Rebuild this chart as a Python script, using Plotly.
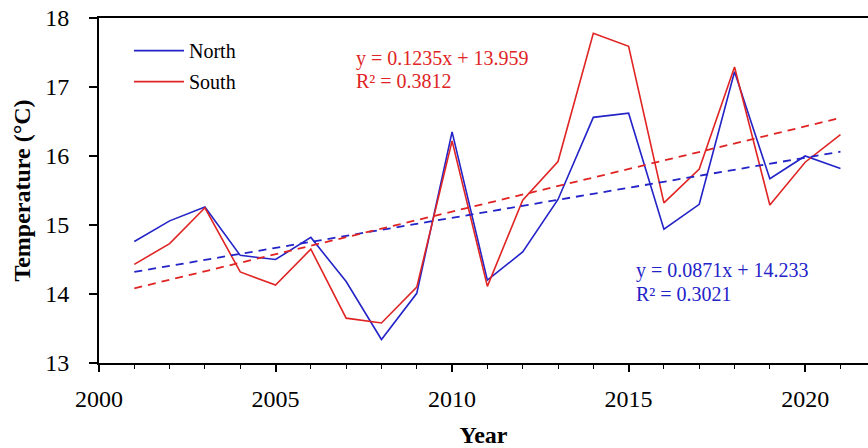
import plotly.graph_objects as go

years = list(range(2001, 2022))
north = [14.76, 15.06, 15.26, 14.56, 14.50, 14.82, 14.18, 13.34, 14.01, 16.35, 14.20,
         14.61, 15.37, 16.56, 16.62, 14.94, 15.30, 17.22, 15.67, 16.00, 15.82]
south = [14.43, 14.73, 15.25, 14.32, 14.13, 14.65, 13.65, 13.58, 14.10, 16.22, 14.11,
         15.36, 15.92, 17.78, 17.59, 15.32, 15.81, 17.29, 15.29, 15.91, 16.31]

north_fit = (0.0871, 14.233, 0.3021)
south_fit = (0.1235, 13.959, 0.3812)

BLUE = "#2323c8"
RED = "#e02424"
FONT = "Liberation Serif"

idx = list(range(1, len(years) + 1))
north_trend = [north_fit[0] * i + north_fit[1] for i in idx]
south_trend = [south_fit[0] * i + south_fit[1] for i in idx]

fig = go.Figure()
fig.add_trace(go.Scatter(x=years, y=north, mode="lines", name="North", legendgroup="n",
                         line=dict(color=BLUE, width=1.6)))
fig.add_trace(go.Scatter(x=years, y=south, mode="lines", name="South", legendgroup="s",
                         line=dict(color=RED, width=1.6)))
fig.add_trace(go.Scatter(x=years, y=north_trend, mode="lines", showlegend=False,
                         line=dict(color=BLUE, width=1.8, dash="8px,6px")))
fig.add_trace(go.Scatter(x=years, y=south_trend, mode="lines", showlegend=False,
                         line=dict(color=RED, width=1.8, dash="8px,6px")))

def eq(fit):
    return f"y = {fit[0]}x + {fit[1]}", f"R² = {fit[2]}"

r1, r2 = eq(south_fit)
b1, b2 = eq(north_fit)
ann = []
for txt, x, y, c in [(r1, 2007.22, 17.41, RED), (r2, 2007.22, 17.09, RED),
                     (b1, 2015.15, 14.34, BLUE), (b2, 2015.15, 14.0, BLUE)]:
    ann.append(dict(x=x, y=y, xref="x", yref="y", text=txt, showarrow=False,
                    xanchor="left", yanchor="middle",
                    font=dict(family=FONT, size=20, color=c)))

fig.update_layout(
    width=868, height=448,
    margin=dict(l=99, r=0, t=18, b=85),
    plot_bgcolor="white", paper_bgcolor="white",
    font=dict(family=FONT, size=24, color="black"),
    annotations=ann,
    showlegend=True,
    legend=dict(x=0.039, y=0.962, xanchor="left", yanchor="top",
                font=dict(family=FONT, size=20, color="black"),
                bgcolor="rgba(0,0,0,0)", tracegroupgap=2, itemwidth=50),
    xaxis=dict(range=[2000, 2021.78], showline=True, linecolor="black", linewidth=2,
               mirror=True, showgrid=False, zeroline=False,
               ticks="outside", tickmode="linear", tick0=2000, dtick=5,
               ticklen=7, tickwidth=1.5, tickcolor="black",
               tickfont=dict(family=FONT, size=24),
               ticklabelstandoff=6,
               minor=dict(ticks="outside", dtick=1, ticklen=4, tickwidth=1.2,
                          tickcolor="black", showgrid=False),
               title=dict(text="<b>Year</b>", font=dict(family=FONT, size=24),
                          standoff=16)),
    yaxis=dict(range=[13, 18], showline=True, linecolor="black", linewidth=2,
               mirror=False, showgrid=False, zeroline=False,
               ticks="outside", tickmode="linear", tick0=13, dtick=1,
               ticklen=8, tickwidth=1.5, tickcolor="black",
               tickfont=dict(family=FONT, size=24),
               ticklabelstandoff=15,
               title=dict(text="<b>Temperature (°C)</b>",
                          font=dict(family=FONT, size=24), standoff=8)),
)

fig.write_html("out.html")
